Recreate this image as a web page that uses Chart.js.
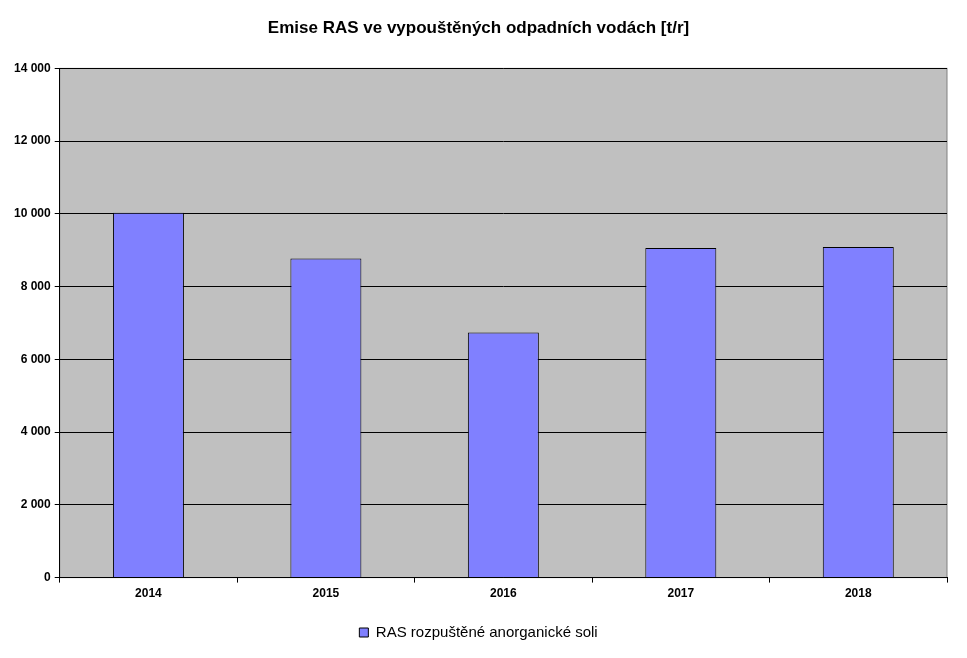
<!DOCTYPE html>
<html>
<head>
<meta charset="utf-8">
<script src="https://cdn.jsdelivr.net/npm/chart.js@4"></script>
<style>
  body { margin: 0; background: #fff; }
  #wrap { width: 967px; height: 658px; }
</style>
</head>
<body>
<div id="wrap"><canvas id="ras"></canvas></div>
<script>
var years = ['2014', '2015', '2016', '2017', '2018'];
var rasValues = [10030, 8770, 6740, 9060, 9090];
var seriesName = 'RAS rozpuštěné anorganické soli';

// gray plot area like the original
var plotBg = {
    id: 'plotBg',
    beforeDraw: function (chart) {
        var a = chart.chartArea, c = chart.ctx;
        c.save();
        c.fillStyle = '#c0c0c0';
        c.fillRect(a.left, a.top, a.right - a.left, a.bottom - a.top);
        c.strokeStyle = '#808080';
        c.lineWidth = 1;
        c.strokeRect(a.left, a.top, a.right - a.left, a.bottom - a.top);
        c.restore();
    }
};

Chart.defaults.font.family = '"Liberation Sans", Arial, sans-serif';
Chart.defaults.color = '#000';

new Chart(document.getElementById('ras').getContext('2d'), {
    type: 'bar',
    data: {
        labels: years,
        datasets: [{
            label: seriesName,
            data: rasValues,
            backgroundColor: '#8080ff',
            borderColor: '#000',
            borderWidth: 1,
            barPercentage: 0.4,
            categoryPercentage: 1
        }]
    },
    options: {
        responsive: true,
        maintainAspectRatio: false,
        animation: false,
        layout: { padding: { left: 10, right: 20, top: 4, bottom: 8 } },
        plugins: {
            title: {
                display: true,
                text: 'Emise RAS ve vypouštěných odpadních vodách [t/r]',
                font: { size: 17, weight: 'bold' },
                padding: { top: 14, bottom: 30 }
            },
            legend: {
                position: 'bottom',
                labels: {
                    boxWidth: 9, boxHeight: 9,
                    font: { size: 15 },
                    padding: 20
                }
            },
            tooltip: { enabled: false }
        },
        scales: {
            x: {
                grid: { display: true, drawOnChartArea: false, color: '#000', tickLength: 5, offset: true },
                border: { color: '#000' },
                ticks: { font: { size: 12, weight: 'bold' }, padding: 4 }
            },
            y: {
                min: 0, max: 14000,
                grid: { color: '#000', tickLength: 5 },
                border: { color: '#000' },
                ticks: {
                    stepSize: 2000,
                    font: { size: 12, weight: 'bold' },
                    padding: 4,
                    callback: function (v) {
                        return v.toString().replace(/\B(?=(\d{3})+(?!\d))/g, ' ');
                    }
                }
            }
        }
    },
    plugins: [plotBg]
});
</script>
</body>
</html>
